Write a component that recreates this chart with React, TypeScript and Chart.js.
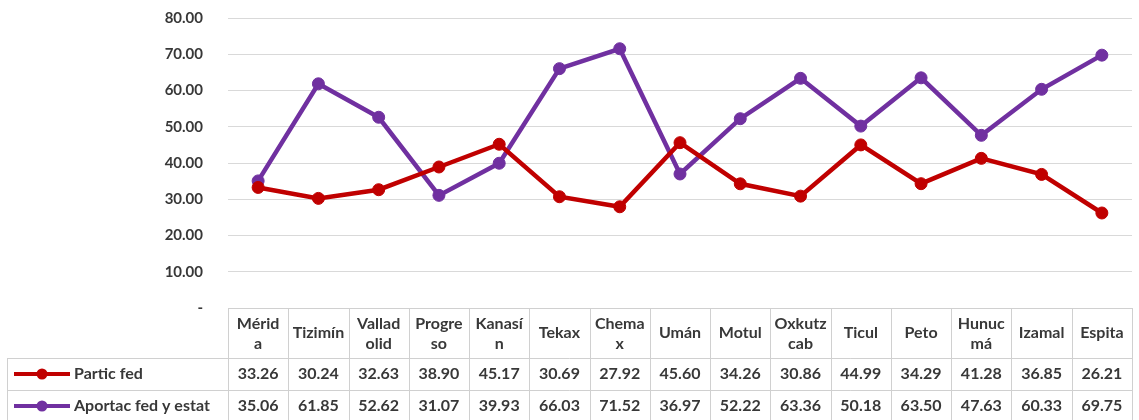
import React, { useEffect, useRef } from "react";
import { Chart, registerables } from "chart.js";

Chart.register(...registerables);

const categoryLines: string[][] = [
  ["Mérid", "a"],
  ["Tizimín"],
  ["Vallad", "olid"],
  ["Progre", "so"],
  ["Kanasí", "n"],
  ["Tekax"],
  ["Chema", "x"],
  ["Umán"],
  ["Motul"],
  ["Oxkutz", "cab"],
  ["Ticul"],
  ["Peto"],
  ["Hunuc", "má"],
  ["Izamal"],
  ["Espita"],
];
const categories = categoryLines.map((l) => l.join(""));

const particFed = [33.26, 30.24, 32.63, 38.9, 45.17, 30.69, 27.92, 45.6, 34.26, 30.86, 44.99, 34.29, 41.28, 36.85, 26.21];
const aportacFedEstat = [35.06, 61.85, 52.62, 31.07, 39.93, 66.03, 71.52, 36.97, 52.22, 63.36, 50.18, 63.5, 47.63, 60.33, 69.75];

const seriesNames = ["Partic fed", "Aportac fed y estat"];
const seriesColors = ["#C00000", "#7030A0"];
const yTicks = [0, 10, 20, 30, 40, 50, 60, 70, 80];

const FONT = "Lato, 'Open Sans', sans-serif";
const TEXT = "#383838";
const BORDER = "#d0d0d0";

const tablePlugin = {
  id: "dataTable",
  afterDraw(chart: any) {
    const ctx = chart.ctx as CanvasRenderingContext2D;
    const xs = chart.scales.x;
    const area = chart.chartArea;
    const n = categories.length;
    const half = (xs.getPixelForValue(1) - xs.getPixelForValue(0)) / 2;
    const top = area.bottom;
    const row1 = top + 50;
    const row2 = row1 + 32;
    const bottom = chart.height;
    const leftEdge = 7.5;
    const rightEdge = xs.getPixelForValue(n - 1) + half;
    ctx.save();
    ctx.strokeStyle = BORDER;
    ctx.lineWidth = 1;
    ctx.beginPath();
    ctx.moveTo(area.left, Math.round(top) + 0.5);
    ctx.lineTo(rightEdge, Math.round(top) + 0.5);
    [row1, row2].forEach((y) => {
      ctx.moveTo(leftEdge, Math.round(y) + 0.5);
      ctx.lineTo(rightEdge, Math.round(y) + 0.5);
    });
    for (let i = 0; i <= n; i++) {
      const x = Math.round(xs.getPixelForValue(0) - half + i * half * 2) + 0.5;
      ctx.moveTo(x, top);
      ctx.lineTo(x, bottom);
    }
    ctx.moveTo(leftEdge, row1);
    ctx.lineTo(leftEdge, bottom);
    ctx.stroke();

    ctx.fillStyle = TEXT;
    ctx.font = `bold 16px ${FONT}`;
    ctx.textAlign = "center";
    ctx.textBaseline = "middle";
    const headMid = (top + row1) / 2;
    categoryLines.forEach((lines, i) => {
      const cx = xs.getPixelForValue(i);
      if (lines.length === 1) {
        ctx.fillText(lines[0], cx, headMid);
      } else {
        ctx.fillText(lines[0], cx, headMid - 9.5);
        ctx.fillText(lines[1], cx, headMid + 10.5);
      }
    });
    const rowsData = [particFed, aportacFedEstat];
    const rowMids = [(row1 + row2) / 2, (row2 + bottom + 2) / 2];
    rowsData.forEach((vals, r) => {
      vals.forEach((v, i) => {
        ctx.fillText(v.toFixed(2), xs.getPixelForValue(i), rowMids[r]);
      });
      const y = rowMids[r];
      ctx.strokeStyle = seriesColors[r];
      ctx.lineWidth = 4;
      ctx.beginPath();
      ctx.moveTo(14, y);
      ctx.lineTo(70, y);
      ctx.stroke();
      ctx.fillStyle = seriesColors[r];
      ctx.beginPath();
      ctx.arc(42, y, 5.5, 0, Math.PI * 2);
      ctx.fill();
      ctx.fillStyle = TEXT;
      ctx.textAlign = "left";
      ctx.fillText(seriesNames[r], 74, y);
      ctx.textAlign = "center";
    });
    ctx.restore();
  },
};

export default function App() {
  const ref = useRef<HTMLCanvasElement>(null);
  useEffect(() => {
    if (!ref.current) return;
    const chart = new Chart(ref.current, {
      type: "line",
      data: {
        labels: categories,
        datasets: [particFed, aportacFedEstat].map((d, i) => ({
          label: seriesNames[i],
          data: d,
          borderColor: seriesColors[i],
          backgroundColor: seriesColors[i],
          pointBackgroundColor: seriesColors[i],
          pointBorderColor: seriesColors[i],
          borderWidth: 4.5,
          pointRadius: 6,
          pointBorderWidth: 1,
          tension: 0,
        })),
      },
      options: {
        responsive: false,
        animation: false,
        layout: { padding: { top: 18, bottom: 112, left: 0, right: 0 } },
        plugins: { legend: { display: false }, tooltip: { enabled: false } },
        scales: {
          x: { type: "category", display: false, offset: true },
          y: {
            min: 0,
            max: 80,
            afterFit(scale: any) {
              scale.width = 228;
              scale.paddingTop = 0;
              scale.paddingBottom = 0;
            },
            afterBuildTicks(scale: any) {
              scale.ticks = yTicks.map((v) => ({ value: v }));
            },
            border: { display: false },
            grid: { color: "#d9d9d9", drawTicks: false, lineWidth: 1 },
            ticks: {
              padding: 25,
              color: TEXT,
              font: { family: FONT, size: 15, weight: "bold" },
              callback: (v: any) => (Number(v) === 0 ? "-" : Number(v).toFixed(2)),
            },
          },
        },
      },
      plugins: [tablePlugin],
    });
    return () => chart.destroy();
  }, []);
  return (
    <div style={{ position: "fixed", left: 0, top: 0, width: 1139, height: 420, background: "#fff" }}>
      <canvas ref={ref} width={1139} height={420} style={{ display: "block" }} />
    </div>
  );
}
